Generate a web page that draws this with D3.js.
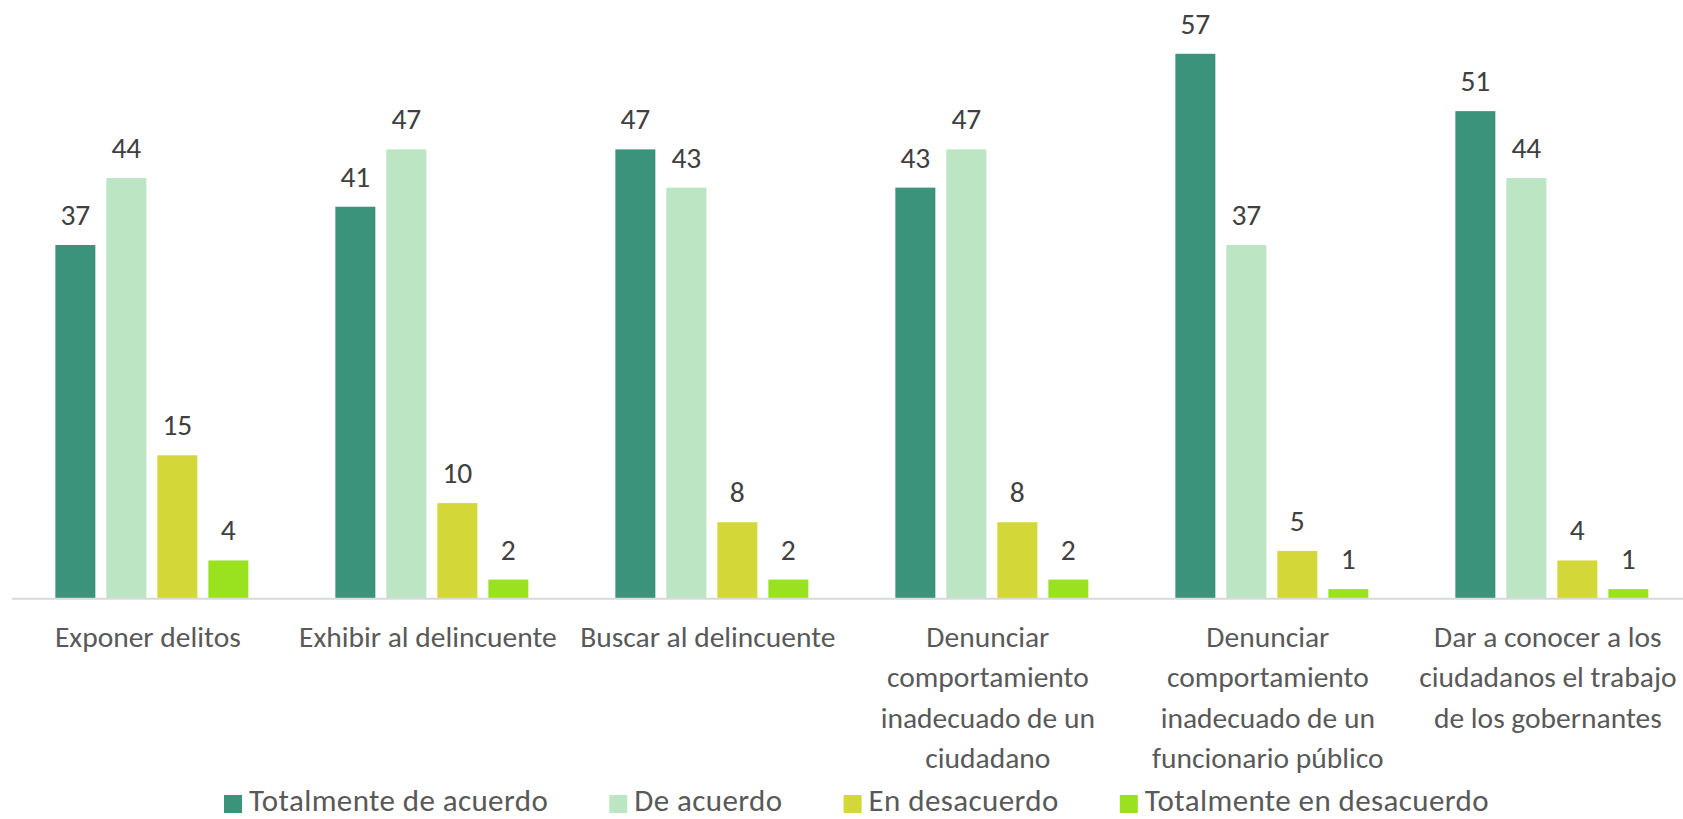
<!DOCTYPE html>
<html>
<head>
<meta charset="utf-8">
<script src="https://cdn.jsdelivr.net/npm/d3@7"></script>
<style>
  html, body { margin: 0; padding: 0; background: #ffffff; }
  svg { display: block; }
  text { font-family: Calibri, Carlito, Lato, "Noto Sans", sans-serif; }
</style>
</head>
<body>
<script>
// ---- data ----
const categories = [
  ["Exponer delitos"],
  ["Exhibir al delincuente"],
  ["Buscar al delincuente"],
  ["Denunciar", "comportamiento", "inadecuado de un", "ciudadano"],
  ["Denunciar", "comportamiento", "inadecuado de un", "funcionario público"],
  ["Dar a conocer a los", "ciudadanos el trabajo", "de los gobernantes"]
];
const seriesNames = ["Totalmente de acuerdo", "De acuerdo", "En desacuerdo", "Totalmente en desacuerdo"];
const totalmenteDeAcuerdo   = [37, 41, 47, 43, 57, 51];
const deAcuerdo             = [44, 47, 43, 47, 37, 44];
const enDesacuerdo          = [15, 10, 8, 8, 5, 4];
const totalmenteEnDesacuerdo = [4, 2, 2, 2, 1, 1];
const seriesColors = ["#3b937b", "#bce5c4", "#d3d737", "#9ae220"];

// ---- layout ----
const W = 1683, H = 819;
const plotLeft = 11.85, groupStep = 280;
const baseY = 598.7, pxPerUnit = 9.56;
const FS = 29.5;

const svg = d3.select("body").append("svg").attr("width", W).attr("height", H);

const catIdx = d3.range(categories.length);
const x0 = d3.scaleBand().domain(catIdx).range([plotLeft, plotLeft + groupStep * categories.length]).paddingInner(0).paddingOuter(0);
const x1 = d3.scaleBand().domain(d3.range(seriesNames.length)).range([0, x0.bandwidth()]).paddingInner(11 / 51).paddingOuter(0.853);
const yMax = 60;
const y = d3.scaleLinear().domain([0, yMax]).range([baseY, baseY - pxPerUnit * yMax]);

const seriesValues = [totalmenteDeAcuerdo, deAcuerdo, enDesacuerdo, totalmenteEnDesacuerdo];
const rows = [];
seriesValues.forEach((vals, s) => vals.forEach((v, c) => rows.push({ s, c, v })));

// bars
svg.append("g").selectAll("rect").data(rows).join("rect")
  .attr("x", d => x0(d.c) + x1(d.s))
  .attr("y", d => y(d.v))
  .attr("width", x1.bandwidth())
  .attr("height", d => y(0) - y(d.v))
  .attr("fill", d => seriesColors[d.s]);

// baseline axis
const xAxis = d3.axisBottom(x0).tickSize(0).tickFormat("");
const axG = svg.append("g").attr("transform", `translate(0,${y(0)})`).call(xAxis);
axG.select(".domain").attr("d", `M${plotLeft},0H${W}`).attr("stroke", "#d9d9d9").attr("stroke-width", 2);

// value labels
svg.append("g").selectAll("text").data(rows).join("text")
  .attr("x", d => x0(d.c) + x1(d.s) + x1.bandwidth() / 2)
  .attr("y", d => y(d.v) - 20)
  .attr("text-anchor", "middle")
  .attr("font-size", FS)
  .attr("fill", "#404040")
  .text(d => d.v);

// category labels
const catG = svg.append("g").selectAll("text").data(categories).join("text")
  .attr("x", (d, i) => x0(i) + x0.bandwidth() / 2 - 4)
  .attr("y", 647)
  .attr("text-anchor", "middle")
  .attr("font-size", FS)
  .attr("fill", "#595959");
catG.each(function(lines, i) {
  const t = d3.select(this);
  lines.forEach((ln, k) => {
    t.append("tspan").attr("x", x0(i) + x0.bandwidth() / 2 - 4).attr("y", 647 + k * 40.4).text(ln);
  });
});

// legend
const legend = svg.append("g");
const items = legend.selectAll("g").data(seriesNames).join("g");
items.append("rect").attr("width", 18).attr("height", 18).attr("y", 795).attr("fill", (d, i) => seriesColors[i]);
items.append("text").attr("x", 25).attr("y", 811).attr("font-size", 31).attr("letter-spacing", 0.4)
  .attr("fill", "#595959").text(d => d);
const widths = [];
items.each(function() { widths.push(25 + d3.select(this).select("text").node().getComputedTextLength()); });
const legStart = 224, legEnd = 1489;
const gap = Math.max(30, (legEnd - legStart - d3.sum(widths)) / (widths.length - 1));
const total = d3.sum(widths) + gap * (widths.length - 1);
let cx = (legStart + legEnd) / 2 - total / 2;
items.attr("transform", (d, i) => { const tx = cx; cx += widths[i] + gap; return `translate(${tx},0)`; });
</script>
</body>
</html>
